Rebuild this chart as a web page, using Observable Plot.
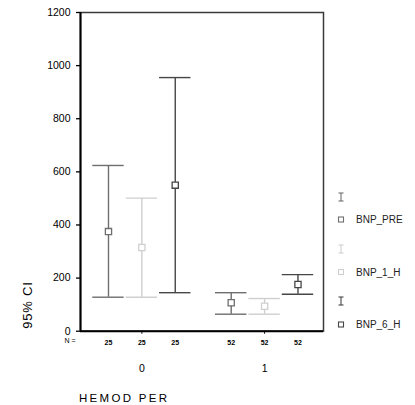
<!DOCTYPE html>
<html><head><meta charset="utf-8">
<script src="https://cdn.jsdelivr.net/npm/d3@7"></script>
<script src="https://cdn.jsdelivr.net/npm/@observablehq/plot@0.6"></script>
<style>body{margin:0;background:#fff;} #chart{position:relative;width:415px;height:405px;}</style>
</head><body><div id="chart"></div>
<script>
const series = ["BNP_PRE", "BNP_1_H", "BNP_6_H"];
const groups = [0, 1];
const means = [[375, 315, 550], [107, 94, 176]];
const lower = [[128, 128, 145], [64, 64, 139]];
const upper = [[624, 501, 955], [145, 123, 213]];
const counts = [[25, 25, 25], [52, 52, 52]];
const yTicks = [0, 200, 400, 600, 800, 1000, 1200];
const colors = ["#6e6e6e", "#cfcfcf", "#464646"];

const offset = 0.272, cap = 0.128;
const rows = [];
groups.forEach((g, gi) => series.forEach((s, si) => rows.push({
  group: g, series: s, x: g + (si - 1) * offset,
  mean: means[gi][si], lo: lower[gi][si], hi: upper[gi][si], n: counts[gi][si]
})));
const colorOf = d => colors[series.indexOf(d.series)];
const font = "Liberation Sans, Arial, sans-serif";

const chart = Plot.plot({
  width: 415, height: 405,
  marginLeft: 80, marginRight: 92, marginTop: 12, marginBottom: 74.3,
  style: {fontFamily: font, background: "#fff", color: "#000"},
  x: {domain: [-0.5, 1.48], axis: null},
  y: {domain: [0, 1200], axis: null},
  marks: [
    Plot.ruleX(rows, {x: "x", y1: "lo", y2: "hi", stroke: colorOf, strokeWidth: 1.4}),
    Plot.ruleY(rows, {y: "hi", x1: d => d.x - cap, x2: d => d.x + cap, stroke: colorOf, strokeWidth: 1.4}),
    Plot.ruleY(rows, {y: "lo", x1: d => d.x - cap, x2: d => d.x + cap, stroke: colorOf, strokeWidth: 1.4}),
    Plot.dot(rows, {x: "x", y: "mean", symbol: "square", r: 3.5, fill: "#fff", stroke: colorOf, strokeWidth: 1.3}),
    Plot.frame({stroke: "#3a3a3a", strokeWidth: 1.5}),
    Plot.ruleX([-0.5], {stroke: "#000", strokeWidth: 2}),
    Plot.ruleY([0], {stroke: "#000", strokeWidth: 2}),
    Plot.axisY(yTicks, {ticks: yTicks, label: null, tickSize: 4, tickPadding: 6, fontSize: 10.5, tickFormat: d => String(d), stroke: "#000", strokeWidth: 1.3}),
    Plot.axisX(groups, {ticks: groups, label: null, tickSize: 3, tickPadding: 30, fontSize: 10.5, tickFormat: d => String(d)}),
    Plot.text(rows, {x: "x", y: 0, text: d => String(d.n), dy: 12, fontSize: 7, fontWeight: "bold"}),
    Plot.text(["N ="], {frameAnchor: "bottom-left", dx: -5, dy: 12, text: d => d, fontSize: 7, textAnchor: "end"})
  ]
});
document.getElementById("chart").appendChild(chart);

const svg = d3.select(chart);
svg.append("text").attr("transform", "translate(32,305) rotate(-90)")
  .attr("text-anchor", "middle").attr("font-size", 13).attr("letter-spacing", 0.8)
  .attr("font-family", font).text("95% CI");
svg.append("text").attr("x", 79).attr("y", 402).attr("font-size", 11.5).attr("text-anchor", "start")
  .attr("letter-spacing", 2.3).attr("font-family", font).text("HEMOD PER");

const leg = svg.append("g").attr("font-family", font).attr("font-size", 10).attr("text-anchor", "start");
series.forEach((s, i) => {
  const yI = 197 + i * 52, yS = 219.5 + i * 52.5, c = colors[i];
  const g = leg.append("g").attr("stroke", c).attr("stroke-width", 1.1).attr("fill", "none");
  g.append("line").attr("x1", 341).attr("x2", 341).attr("y1", yI - 4).attr("y2", yI + 4);
  g.append("line").attr("x1", 338.5).attr("x2", 343.5).attr("y1", yI - 4).attr("y2", yI - 4);
  g.append("line").attr("x1", 338.5).attr("x2", 343.5).attr("y1", yI + 4).attr("y2", yI + 4);
  g.append("rect").attr("x", 338.5).attr("y", yS - 2.5).attr("width", 5).attr("height", 5).attr("fill", "#fff");
  leg.append("text").attr("x", 356).attr("y", yS).attr("dy", "0.35em").attr("fill", "#222").text(s);
});
</script>
</body></html>
